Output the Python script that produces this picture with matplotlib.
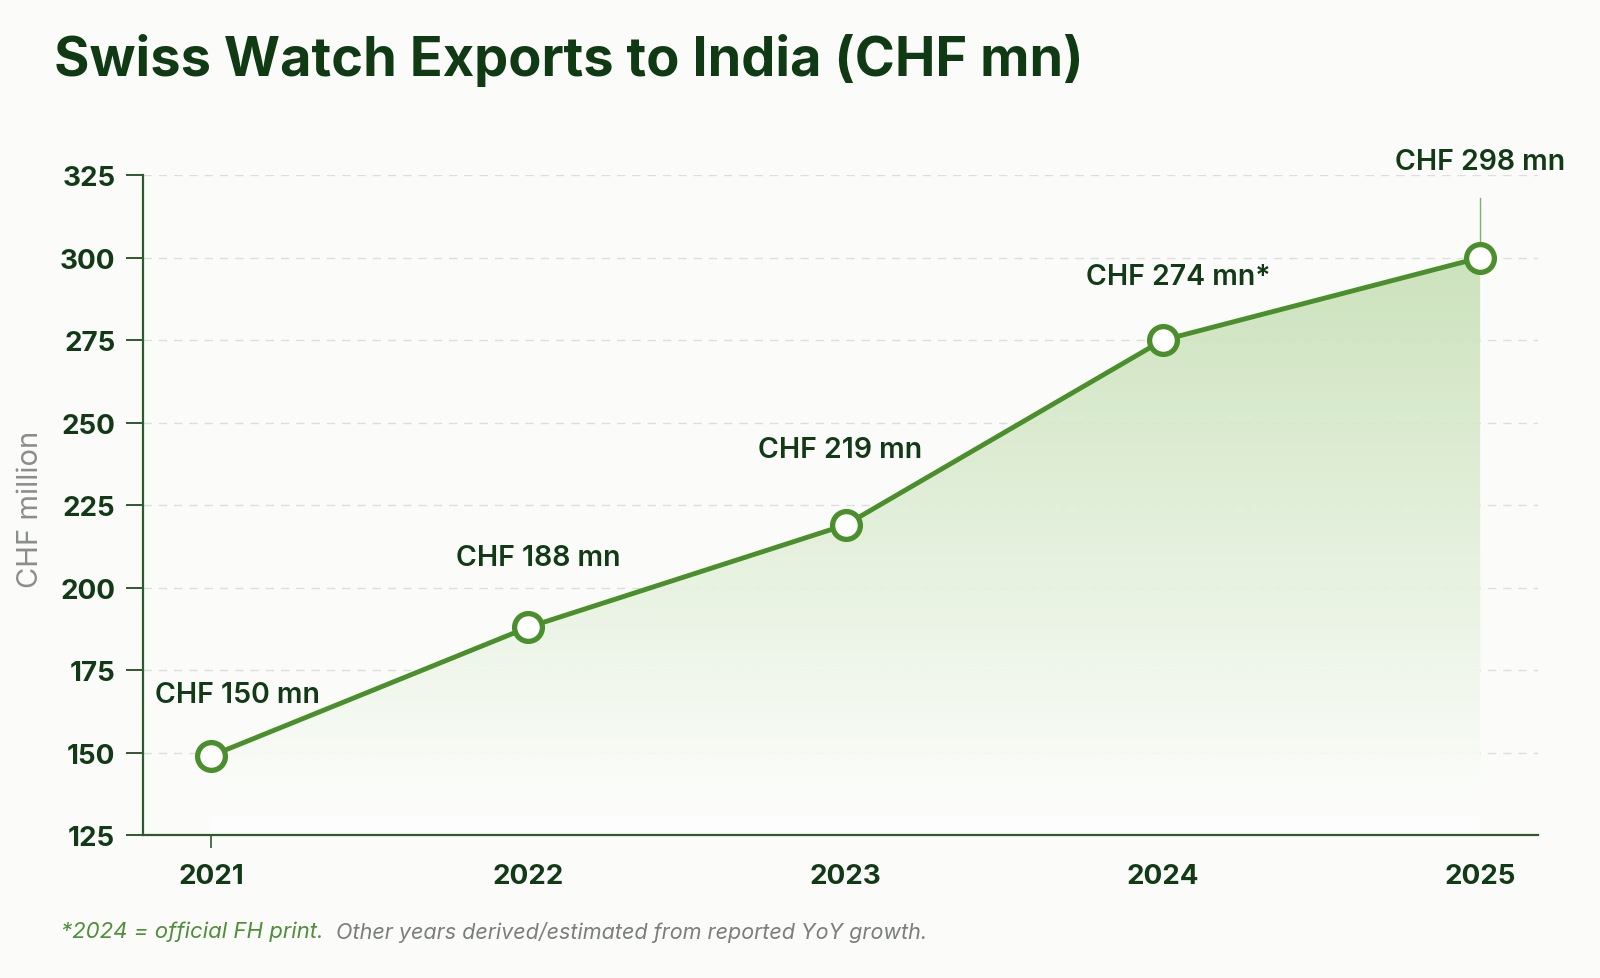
import numpy as np
import matplotlib
matplotlib.use("Agg")
import matplotlib.pyplot as plt
from matplotlib.colors import LinearSegmentedColormap

# ---------------- Data ----------------
years = [2021, 2022, 2023, 2024, 2025]
values = [149, 188, 219, 275, 300]
labels = ["CHF 150 mn", "CHF 188 mn", "CHF 219 mn", "CHF 274 mn*", "CHF 298 mn"]
yticks = [125, 150, 175, 200, 225, 250, 275, 300, 325]

# label offsets (points) relative to each marker
offsets = [(19, 44), (7, 50), (-4, 54), (11, 46), (0, 69)]

# ---------------- Style ----------------
plt.rcParams["font.family"] = ["Inter", "DejaVu Sans"]
bg = "#fbfcfa"
line_c = "#4a8f2c"
dark = "#123a17"

fig = plt.figure(figsize=(16, 9.79), dpi=100, facecolor=bg)
ax = fig.add_axes([0.0894, 0.146, 0.872, 0.674], facecolor=bg)

ax.set_xlim(2020.786, 2025.183)
ax.set_ylim(125, 325)

# gradient fill under the line
cmap = LinearSegmentedColormap.from_list("g", ["#ffffff", "#c7e0b6"])
grad = np.linspace(0, 1, 256).reshape(-1, 1)
im = ax.imshow(grad, extent=[years[0], years[-1], 125, 300], origin="lower",
               aspect="auto", cmap=cmap, alpha=0.9, zorder=1)
poly = ax.fill_between(years, values, 125, color="none", lw=0)
im.set_clip_path(poly.get_paths()[0], transform=ax.transData)

ax.set_yticks(yticks)
ax.grid(axis="y", color="#dcdedb", ls=(0, (6, 5)), lw=1, zorder=0)
ax.set_axisbelow(True)

# thin line above last point
ax.plot([years[-1], years[-1]], [values[-1], 318], color=line_c, lw=1, alpha=0.7, zorder=2)

ax.plot(years, values, color=line_c, lw=3.5, zorder=3, solid_capstyle="round")
ax.plot(years, values, "o", ms=20, mfc="white", mec=line_c, mew=3.8, zorder=4)

for x, y, t, (dx, dy) in zip(years, values, labels, offsets):
    ax.annotate(t, (x, y), xytext=(dx, dy), textcoords="offset points",
                ha="center", va="center", fontsize=20.5, fontweight="semibold",
                color=dark, zorder=5)

ax.set_xticks(years)
ax.set_xticklabels([str(y) for y in years])
for s in ["top", "right"]:
    ax.spines[s].set_visible(False)
for s in ["left", "bottom"]:
    ax.spines[s].set_color("#2f5a2c")
    ax.spines[s].set_linewidth(1.6)
ax.tick_params(axis="y", length=12, width=1.4, color="#2f5a2c", pad=8,
               labelsize=20, labelcolor=dark)
ax.tick_params(axis="x", length=9, width=1.2, color="#2f5a2c", pad=11,
               labelsize=20, labelcolor=dark)
for t in ax.xaxis.get_major_ticks()[1:]:
    t.tick1line.set_visible(False)
for lab in ax.get_xticklabels() + ax.get_yticklabels():
    lab.set_fontweight("bold")

ax.set_ylabel("CHF million", fontsize=21, color="#8a8d8a")
ax.yaxis.set_label_coords(-0.071, 0.495)

fig.text(0.034, 0.938, "Swiss Watch Exports to India (CHF mn)", fontsize=39,
         fontweight="bold", color="#103a14", va="center")

fig.text(0.038, 0.048, "*2024 = official FH print.", fontsize=16, style="italic",
         color="#4f8f3a", va="center")
fig.text(0.21, 0.048, "Other years derived/estimated from reported YoY growth.",
         fontsize=15.5, style="italic", color="#7b7e7b", va="center")

fig.savefig("out.png", dpi=100, facecolor=bg)
